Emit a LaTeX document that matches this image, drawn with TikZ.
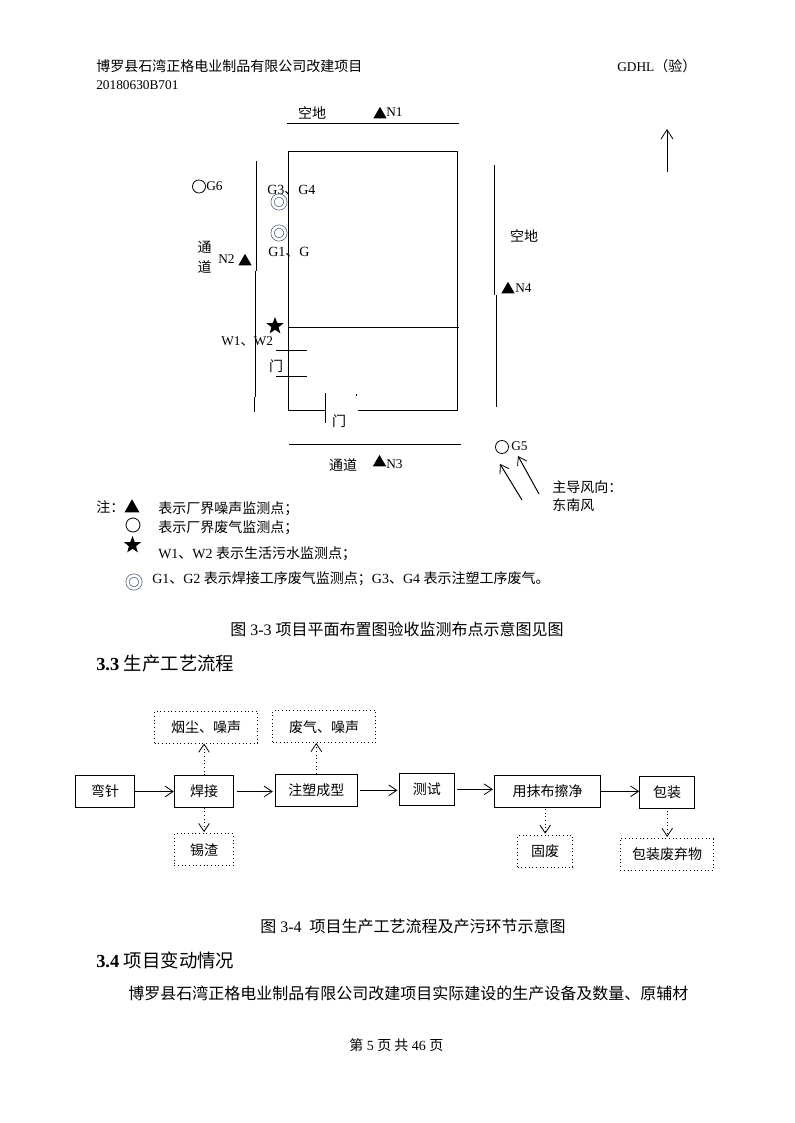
\documentclass[tikz,border=0pt]{standalone}
\usepackage{fontspec}
\setmainfont{Liberation Serif}
\newfontfamily\cjk{Noto Sans CJK SC}
\usetikzlibrary{shapes.geometric,arrows.meta}
\newcommand{\zh}[1]{{\cjk #1}}
\definecolor{ringcol}{rgb}{0.30,0.36,0.46}
\tikzset{
  lbl/.style={inner sep=0pt,anchor=west,text height=10.2pt,text depth=2pt,font=\fontsize{10.5}{12}\selectfont},
  lblc/.style={lbl,anchor=center},
  small/.style={lbl,text height=8.5pt,font=\fontsize{10}{12}\selectfont},
  big/.style={lbl,text height=11pt,font=\fontsize{12}{14}\selectfont},
  head/.style={lbl,text height=12.6pt,font=\fontsize{13.8}{16}\selectfont},
  plan/.style={line width=0.75pt},
  tri/.style={regular polygon,regular polygon sides=3,fill=black,inner sep=0pt,minimum size=11.5pt},
  strmark/.style={star,star points=5,star point ratio=2.4,fill=black,inner sep=0pt,minimum size=13.5pt},
  ring/.style={circle,draw,line width=0.6pt,inner sep=0pt,minimum size=9.8pt},
  dring/.style={circle,draw=ringcol,double=white,double distance=2pt,line width=0.5pt,inner sep=0pt,minimum size=9.6pt},
  solidbox/.style={draw,line width=0.75pt,inner sep=0pt,font=\fontsize{10.5}{12}\selectfont},
  dotbox/.style={draw,dotted,line width=0.75pt,inner sep=0pt,font=\fontsize{10.5}{12}\selectfont},
  barb/.style={-{Straight Barb[length=6pt,width=8pt,line width=0.6pt]}},
  flow/.style={barb,line width=0.75pt},
  waste/.style={barb,dotted,line width=0.75pt},
}
\newcommand{\flowbox}[6]{\node[#1,minimum width=#5*0.75pt-#3*0.75pt,minimum height=31.5*0.75pt] (#2) at ({(#3+#5)/2},#4) {\zh{#6}};}
\begin{document}
\begin{tikzpicture}[x=0.75pt,y=-0.75pt]
\useasboundingbox[fill=white] (0,0) rectangle (794,1123);
% header
\node[lbl] (hdr) at (96,66) {\zh{博罗县石湾正格电业制品有限公司改建项目}};
\node[small] (code) at (96,85) {20180630B701};
\node[lbl] (gdhl) at (617,66) {{\fontsize{10}{12}\selectfont GDHL}\zh{（验）}};
% plan lines
\coordinate (nl1) at (287,123.5); \coordinate (nl2) at (459,123.5);
\draw[plan] (nl1) -- (nl2);
\coordinate (b1) at (325.3,410); \coordinate (b2) at (288.5,410); \coordinate (b3) at (288.5,151.5);
\coordinate (b4) at (457.3,151.5); \coordinate (b5) at (457.3,410); \coordinate (b6) at (358,410);
\draw[plan] (b1) -- (b2) -- (b3) -- (b4) -- (b5) -- (b6);
\coordinate (m1) at (288.5,327.3); \coordinate (m2) at (458.5,327.3);
\draw[plan] (m1) -- (m2);
\coordinate (l1) at (256.3,161); \coordinate (l2) at (256.3,271);
\coordinate (l3) at (255.3,271); \coordinate (l4) at (255.3,397);
\coordinate (l5) at (254.3,397); \coordinate (l6) at (254.3,411.7);
\draw[plan] (l1) -- (l2) (l3) -- (l4) (l5) -- (l6);
\coordinate (r1) at (494.7,165); \coordinate (r2) at (494.7,295);
\coordinate (r3) at (496,295); \coordinate (r4) at (496,407);
\draw[plan] (r1) -- (r2) (r3) -- (r4);
\coordinate (d1) at (276,350); \coordinate (d2) at (307,350);
\coordinate (d3) at (276,376.3); \coordinate (d4) at (307,376.3);
\draw[plan] (d1) -- (d2) (d3) -- (d4);
\coordinate (e1) at (325.3,393); \coordinate (e2) at (325.3,422.7);
\draw[plan] (e1) -- (e2);
\coordinate (dot1) at (356,394); \coordinate (dot2) at (356,396);
\draw[plan] (dot1) -- (dot2);
\coordinate (s1) at (289,444.3); \coordinate (s2) at (461,444.3);
\draw[plan] (s1) -- (s2);
% plan labels
\node[lblc] (kd1) at (312,113) {\zh{空地}};
\node[tri] (n1m) at (380,114.5) {};
\node[small] (n1) at (386,112.5) {N1};
\node[ring] (g6m) at (199,186.5) {};
\node[small] (g6) at (206,186.5) {G6};
\node[lbl] (g34) at (267,189) {G3\zh{、}G4};
\node[dring] (r34) at (279,202) {};
\node[dring] (r12) at (279,233) {};
\node[lbl] (g12) at (268,251) {G1\zh{、}G};
\node[lblc] (td1) at (204.5,247) {\zh{通}};
\node[lblc] (td2) at (204.5,267) {\zh{道}};
\node[small] (n2) at (218,259) {N2};
\node[tri] (n2m) at (245,261.5) {};
\node[strmark] (wm) at (275,326) {};
\node[small] (w12) at (221,341) {W1\zh{、}W2};
\node[lblc] (men1) at (276,366) {\zh{门}};
\node[lblc] (men2) at (339,421) {\zh{门}};
\node[lblc] (td3) at (343,465) {\zh{通道}};
\node[tri] (n3m) at (379.5,462.5) {};
\node[small] (n3) at (386,464) {N3};
\node[lblc] (kd2) at (524,236) {\zh{空地}};
\node[tri] (n4m) at (508,289.5) {};
\node[small] (n4) at (515,288) {N4};
\node[ring] (g5m) at (502,447) {};
\node[small] (g5) at (511,446) {G5};
% wind
\coordinate (w1a) at (522,500); \coordinate (w1b) at (500,464);
\coordinate (w2a) at (539,494); \coordinate (w2b) at (518,456);
\draw[flow] (w1a) -- (w1b);
\draw[flow] (w2a) -- (w2b);
\node[lbl] (wind1) at (552,487) {\zh{主导风向：}};
\node[lbl] (wind2) at (552,505) {\zh{东南风}};
% north
\coordinate (na) at (667,172); \coordinate (nb) at (667,129);
\draw[line width=0.75pt,-{Straight Barb[length=7pt,width=9pt,line width=0.6pt]}] (na) -- (nb);
% legend
\node[lbl] (zhu) at (96,507) {\zh{注：}};
\node[tri,minimum size=13pt] (lg1) at (132,508) {};
\node[lbl] (lt1) at (158,508) {\zh{表示厂界噪声监测点；}};
\node[ring,minimum size=10.5pt] (lg2) at (133,525) {};
\node[lbl] (lt2) at (158,527) {\zh{表示厂界废气监测点；}};
\node[strmark] (lg3) at (132.5,545) {};
\node[lbl] (lt3) at (158,553) {W1\zh{、}W2 \zh{表示生活污水监测点；}};
\node[dring] (lg4) at (134,582) {};
\node[lbl] (lt4) at (152,578) {G1\zh{、}G2 \zh{表示焊接工序废气监测点；}G3\zh{、}G4 \zh{表示注塑工序废气。}};
% captions and headings
\node[big] (cap1) at (230,629) {\zh{图} 3-3 \zh{项目平面布置图验收监测布点示意图见图}};
\node[head] (sec1) at (96,663) {\textbf{3.3} \zh{生产工艺流程}};
\node[big] (cap2) at (260,926) {\zh{图} 3-4\ \ \zh{项目生产工艺流程及产污环节示意图}};
\node[head] (sec2) at (96,960) {\textbf{3.4} \zh{项目变动情况}};
\node[big] (body) at (128,993) {\zh{博罗县石湾正格电业制品有限公司改建项目实际建设的生产设备及数量、原辅材}};
\node[lbl] (foot) at (349,1045) {\zh{第} 5 \zh{页 共} 46 \zh{页}};
% flow boxes
\flowbox{solidbox}{wz}{75.7}{791.5}{134.3}{弯针}
\flowbox{solidbox}{hj}{174.3}{791.5}{233.7}{焊接}
\flowbox{solidbox}{zs}{275.3}{790.3}{357.3}{注塑成型}
\flowbox{solidbox}{cs}{399.3}{789.3}{454.3}{测试}
\flowbox{solidbox}{mb}{494.7}{791.3}{600.3}{用抹布擦净}
\flowbox{solidbox}{bz}{639.7}{792.3}{694.7}{包装}
\flowbox{dotbox}{yc}{154.7}{727.3}{257.7}{烟尘、噪声}
\flowbox{dotbox}{fq}{272.7}{726.7}{375.7}{废气、噪声}
\flowbox{dotbox}{xz}{174.3}{849.7}{233.7}{锡渣}
\flowbox{dotbox}{gf}{517.7}{851.3}{572.7}{固废}
\flowbox{dotbox}{bf}{620.3}{854.5}{713.7}{包装废弃物}
% flow connectors
\draw[flow] (wz.east) -- (hj.west);
\draw[flow,shorten <=2pt,shorten >=1.5pt] (hj.east) -- (hj.east -| zs.west);
\draw[flow,shorten <=2pt,shorten >=1pt] (zs.east) -- (zs.east -| cs.west);
\draw[flow,shorten <=2pt,shorten >=1pt] (cs.east) -- (cs.east -| mb.west);
\draw[flow] (mb.east) -- (mb.east -| bz.west);
\draw[waste] (hj.north) -- (yc.south -| hj.north);
\draw[waste] (zs.north) -- (fq.south -| zs.north);
\draw[waste,shorten >=1pt] (hj.south) -- (xz.north);
\draw[waste,shorten <=1pt,shorten >=1pt] (mb.south -| gf.north) -- (gf.north);
\draw[waste,shorten <=1.5pt,shorten >=1pt] (bz.south) -- (bz.south |- bf.north);
\end{tikzpicture}
\end{document}
